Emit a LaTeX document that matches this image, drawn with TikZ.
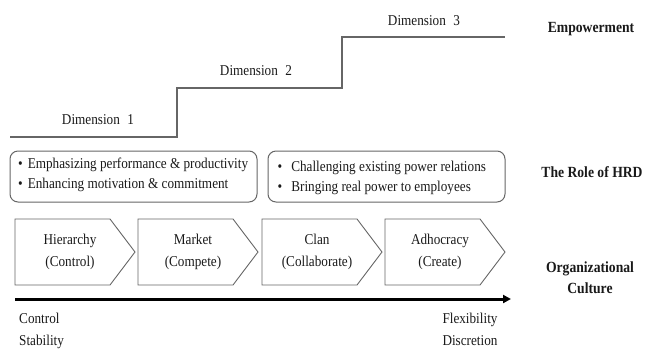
\documentclass[tikz,border=0pt]{standalone}
\usepackage{fontspec}
\setmainfont{Liberation Serif}[FakeStretch=0.88]
\usetikzlibrary{arrows.meta}
\begin{document}
\begin{tikzpicture}[x=1pt,y=-1pt,
  txt/.style={font=\fontsize{15}{17}\selectfont, text=black!90, inner sep=0pt},
  twoline/.style={font=\fontsize{15}{22}\selectfont, text=black!90, inner sep=0pt, align=center},
  lbl/.style={font=\fontsize{15.5}{21}\selectfont\bfseries, text=black!90, inner sep=0pt, align=center},
  stair/.style={draw=black!60, line width=1.5pt},
  hrdbox/.style={draw=black!60, line width=1pt, rounded corners=8pt},
  chev/.style={draw=black!60, line width=0.9pt},
  axis/.style={draw=black, line width=3pt, -{Triangle[length=8pt,width=8pt]}}
]
\useasboundingbox (0,0) rectangle (645,349);

% staircase
\coordinate (s0) at (10,137);
\coordinate (s1) at (177,137);
\coordinate (s2) at (177,88);
\coordinate (s3) at (342,88);
\coordinate (s4) at (342,37);
\coordinate (s5) at (505,37);
\draw[stair] (s0) -- (s1) -- (s2) -- (s3) -- (s4) -- (s5);
\node[txt] (d1) at (98,120) {Dimension\enspace 1};
\node[txt] (d2) at (256,71) {Dimension\enspace 2};
\node[txt] (d3) at (424,21) {Dimension\enspace 3};

% role of HRD boxes
\draw[hrdbox] (10,151) rectangle (257,202);
\draw[hrdbox] (268,151) rectangle (505,202);
\node[txt, anchor=west] (a1) at (18,165) {•\hspace{5pt}Emphasizing performance \& productivity};
\node[txt, anchor=west] (a2) at (18,185) {•\hspace{5pt}Enhancing motivation \& commitment};
\node[txt, anchor=west] (b1) at (277.5,168) {•\hspace{9pt}Challenging existing power relations};
\node[txt, anchor=west] (b2) at (277.5,188) {•\hspace{9pt}Bringing real power to employees};

% chevrons
\foreach \L/\nm/\t in {15/c1/{Hierarchy\\(Control)}, 138/c2/{Market\\(Compete)}, 262/c3/{Clan\\(Collaborate)}, 385/c4/{Adhocracy\\(Create)}}{
  \draw[chev] (\L,219) -- ++(95,0) -- ++(25,33) -- ++(-25,33) -- ++(-95,0) -- cycle;
  \node[twoline] (\nm) at (\L+55,252) {\t};
}

% axis
\coordinate (ax0) at (15,299);
\coordinate (ax1) at (511,299);
\draw[axis] (ax0) -- (ax1);
\node[twoline, align=left, anchor=west] (left) at (19,330.5) {Control\\Stability};
\node[twoline] (right) at (470,329) {Flexibility\\Discretion};

% right labels
\node[lbl] (emp) at (591,29) {Empowerment};
\node[lbl] (hrd) at (592,172) {The Role of HRD};
\node[lbl] (org) at (590,277.5) {Organizational\\Culture};
\end{tikzpicture}
\end{document}
